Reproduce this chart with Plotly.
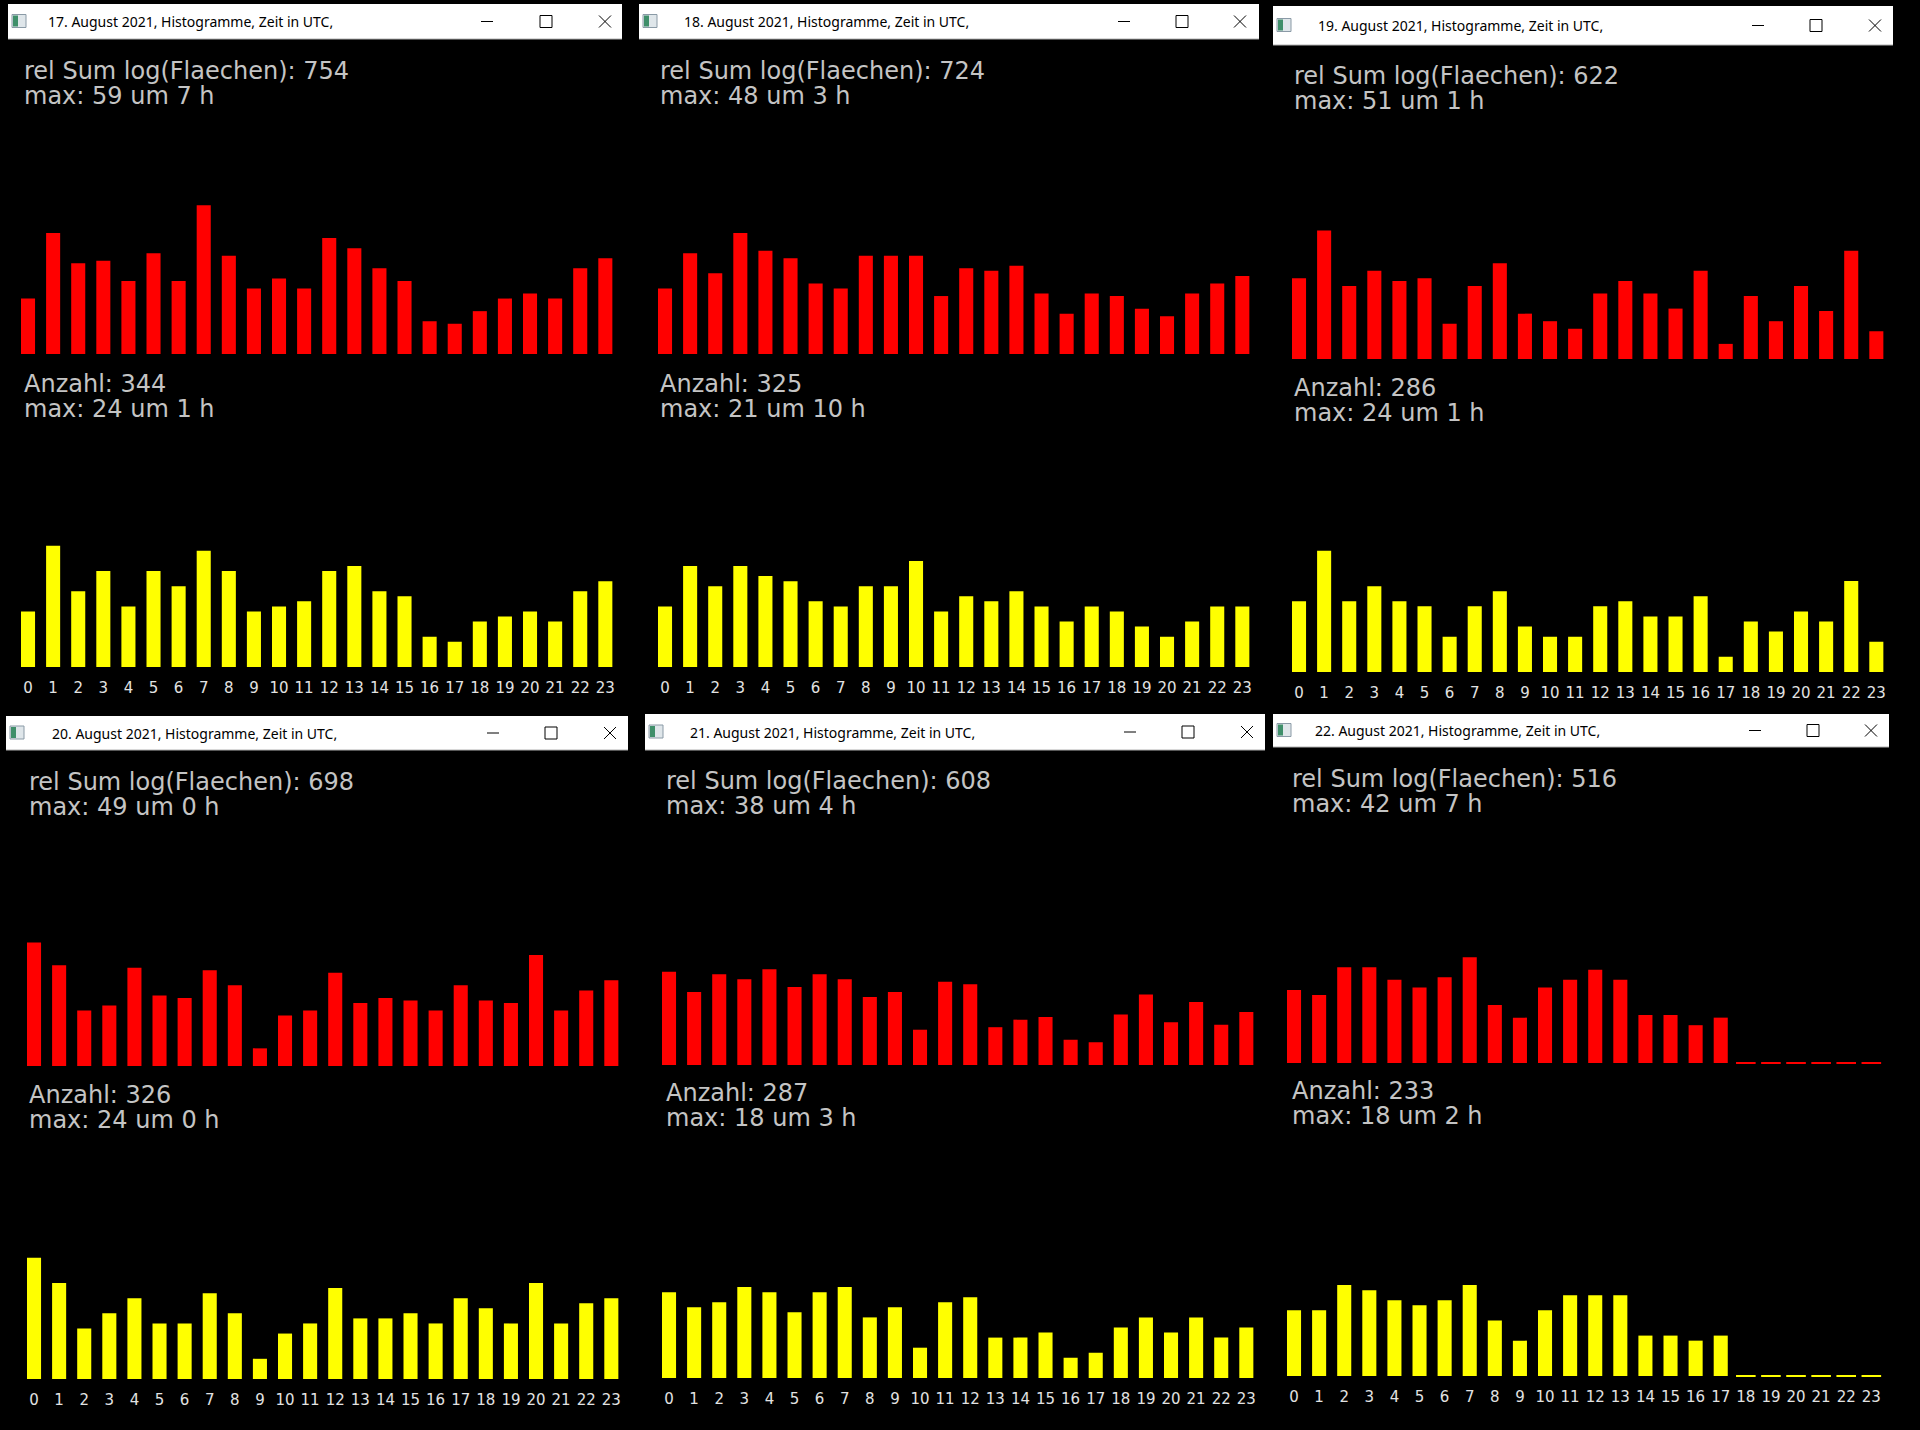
import plotly.graph_objects as go

W, H = 1920, 1430

# hours of the day (UTC)
hours = list(range(24))
hour_labels = [str(h) for h in hours]

dates = ["17. August 2021", "18. August 2021", "19. August 2021",
         "20. August 2021", "21. August 2021", "22. August 2021"]

# rel Sum log(Flaechen) per hour (red)
flaechen_17 = [22, 48, 36, 37, 29, 40, 29, 59, 39, 26, 30, 26, 46, 42, 34, 29, 13, 12, 17, 22, 24, 22, 34, 38]
flaechen_18 = [26, 40, 32, 48, 41, 38, 28, 26, 39, 39, 39, 23, 34, 33, 35, 24, 16, 24, 23, 18, 15, 24, 28, 31]
flaechen_19 = [32, 51, 29, 35, 31, 32, 14, 29, 38, 18, 15, 12, 26, 31, 26, 20, 35, 6, 25, 15, 29, 19, 43, 11]
flaechen_20 = [49, 40, 22, 24, 39, 28, 27, 38, 32, 7, 20, 22, 37, 25, 27, 26, 22, 32, 26, 25, 44, 22, 30, 34]
flaechen_21 = [37, 29, 36, 34, 38, 31, 36, 34, 27, 29, 14, 33, 32, 15, 18, 19, 10, 9, 20, 28, 17, 25, 16, 21]
flaechen_22 = [29, 27, 38, 38, 33, 30, 34, 42, 23, 18, 30, 33, 37, 33, 19, 19, 15, 18, 0, 0, 0, 0, 0, 0]

# Anzahl per hour (yellow)
anzahl_17 = [11, 24, 15, 19, 12, 19, 16, 23, 19, 11, 12, 13, 19, 20, 15, 14, 6, 5, 9, 10, 11, 9, 15, 17]
anzahl_18 = [12, 20, 16, 20, 18, 17, 13, 12, 16, 16, 21, 11, 14, 13, 15, 12, 9, 12, 11, 8, 6, 9, 12, 12]
anzahl_19 = [14, 24, 14, 17, 14, 13, 7, 13, 16, 9, 7, 7, 13, 14, 11, 11, 15, 3, 10, 8, 12, 10, 18, 6]
anzahl_20 = [24, 19, 10, 13, 16, 11, 11, 17, 13, 4, 9, 11, 18, 12, 12, 13, 11, 16, 14, 11, 19, 11, 15, 16]
anzahl_21 = [17, 14, 15, 18, 17, 13, 17, 18, 12, 14, 6, 15, 16, 8, 8, 9, 4, 5, 10, 12, 9, 12, 8, 10]
anzahl_22 = [13, 13, 18, 17, 15, 14, 15, 18, 11, 7, 13, 16, 16, 16, 8, 8, 7, 8, 0, 0, 0, 0, 0, 0]

flaechen = [flaechen_17, flaechen_18, flaechen_19, flaechen_20, flaechen_21, flaechen_22]
anzahl = [anzahl_17, anzahl_18, anzahl_19, anzahl_20, anzahl_21, anzahl_22]

# window placement in pixels
windows = [
    dict(left=21, red=354, yel=667, tx=22, t1=71, t2=384, bar=(8, 622, 4, 39), title_x=46, btn=(487, 546, 605)),
    dict(left=658, red=354, yel=667, tx=658, t1=71, t2=384, bar=(639, 1259, 4, 39), title_x=682, btn=(1124, 1182, 1240)),
    dict(left=1292, red=359, yel=672, tx=1292, t1=76, t2=388, bar=(1273, 1893, 6, 45), title_x=1316, btn=(1758, 1816, 1875)),
    dict(left=27, red=1066, yel=1379, tx=27, t1=782, t2=1095, bar=(6, 628, 716, 750), title_x=50, btn=(493, 551, 610)),
    dict(left=662, red=1065, yel=1378, tx=664, t1=781, t2=1093, bar=(645, 1265, 714, 750), title_x=688, btn=(1130, 1188, 1247)),
    dict(left=1287, red=1063, yel=1376, tx=1290, t1=779, t2=1091, bar=(1273, 1889, 714, 747), title_x=1313, btn=(1755, 1813, 1871)),
]

PITCH = 25.1
RED_PX = 2.52    # pixels per unit, red
YEL_PX = 5.05    # pixels per unit, yellow
RED_MAX = 60
YEL_MAX = 25
TEXT_COLOR = "#c4c4c4"
TEXT_FONT = "DejaVu Sans"


def px(x):
    return x / W


def py(y):
    return 1 - y / H


fig = go.Figure()
layout_axes = {}
shapes = []
annotations = []

for i, win in enumerate(windows):
    red_vals = flaechen[i]
    yel_vals = anzahl[i]
    x0 = win["left"] - PITCH * 0.22
    x1 = x0 + 24 * PITCH
    dom_x = [px(x0), px(x1)]

    for k, (vals, color, base, scale, vmax) in enumerate([
        (red_vals, "#ff0000", win["red"], RED_PX, RED_MAX),
        (yel_vals, "#ffff00", win["yel"], YEL_PX, YEL_MAX),
    ]):
        n = 2 * i + k + 1
        suffix = "" if n == 1 else str(n)
        fig.add_trace(go.Bar(
            x=hours, y=vals, width=0.56, marker=dict(color=color, line=dict(width=0)),
            xaxis="x" + suffix, yaxis="y" + suffix, showlegend=False,
        ))
        zeros = [h for h, v in zip(hours, vals) if v == 0]
        if zeros:
            fig.add_trace(go.Scatter(
                x=zeros, y=[0] * len(zeros), mode="markers", cliponaxis=False,
                marker=dict(symbol="line-ew", size=14, line=dict(width=2, color=color)),
                xaxis="x" + suffix, yaxis="y" + suffix, showlegend=False,
            ))
        layout_axes["xaxis" + suffix] = dict(
            domain=dom_x, range=[-0.5, 23.5], anchor="y" + suffix,
            showgrid=False, zeroline=False, showline=False, ticks="",
            tickmode="array", tickvals=hours, ticktext=hour_labels,
            showticklabels=(k == 1), ticklabelstandoff=10,
            tickfont=dict(family=TEXT_FONT, size=15, color="#e2e2e2"),
            fixedrange=True,
        )
        layout_axes["yaxis" + suffix] = dict(
            domain=[py(base), py(base - vmax * scale)], range=[0, vmax],
            anchor="x" + suffix, showgrid=False, zeroline=False,
            showline=False, showticklabels=False, ticks="", fixedrange=True,
        )

    # info texts
    red_max = max(red_vals)
    yel_max = max(yel_vals)
    lines = [
        (win["t1"], f"rel Sum log(Flaechen): {sum(red_vals)}"),
        (win["t1"] + 25, f"max: {red_max} um {red_vals.index(red_max)} h"),
        (win["t2"], f"Anzahl: {sum(yel_vals)}"),
        (win["t2"] + 25, f"max: {yel_max} um {yel_vals.index(yel_max)} h"),
    ]
    for ty, txt in lines:
        annotations.append(dict(
            x=px(win["tx"]), y=py(ty), xref="paper", yref="paper",
            xanchor="left", yanchor="middle", showarrow=False, text=txt,
            font=dict(family=TEXT_FONT, size=24, color=TEXT_COLOR),
        ))

    # window title bar
    bx0, bx1, by0, by1 = win["bar"]
    cy = (by0 + by1) / 2
    shapes.append(dict(type="rect", xref="paper", yref="paper",
                       x0=px(bx0), x1=px(bx1), y0=py(by1), y1=py(by0),
                       fillcolor="white", line=dict(width=0), layer="above"))
    shapes.append(dict(type="line", xref="paper", yref="paper",
                       x0=px(bx0), x1=px(bx1), y0=py(by1), y1=py(by1),
                       line=dict(color="#b0b0b0", width=1), layer="above"))
    # window icon
    shapes.append(dict(type="rect", xref="paper", yref="paper",
                       x0=px(bx0 + 4), x1=px(bx0 + 18), y0=py(cy + 6), y1=py(cy - 7),
                       fillcolor="#dfe6ea", line=dict(color="#8a9aa6", width=1), layer="above"))
    shapes.append(dict(type="rect", xref="paper", yref="paper",
                       x0=px(bx0 + 5), x1=px(bx0 + 10), y0=py(cy + 5), y1=py(cy - 6),
                       fillcolor="#3f8f6a", line=dict(width=0), layer="above"))
    annotations.append(dict(
        x=px(win["title_x"]), y=py(cy), xref="paper", yref="paper",
        xanchor="left", yanchor="middle", showarrow=False,
        text=f"{dates[i]}, Histogramme, Zeit in UTC,",
        font=dict(family="Noto Sans", size=14, color="#000000"),
    ))
    # minimise / maximise / close buttons
    b_min, b_max, b_close = win["btn"]
    shapes.append(dict(type="line", xref="paper", yref="paper",
                       x0=px(b_min - 6), x1=px(b_min + 6), y0=py(cy), y1=py(cy),
                       line=dict(color="#000000", width=1), layer="above"))
    shapes.append(dict(type="rect", xref="paper", yref="paper",
                       x0=px(b_max - 6), x1=px(b_max + 6), y0=py(cy + 6), y1=py(cy - 6),
                       line=dict(color="#000000", width=1), layer="above"))
    for sgn in (1, -1):
        shapes.append(dict(type="line", xref="paper", yref="paper",
                           x0=px(b_close - 6), x1=px(b_close + 6),
                           y0=py(cy - 6 * sgn), y1=py(cy + 6 * sgn),
                           line=dict(color="#000000", width=1), layer="above"))

fig.update_layout(
    width=W, height=H,
    margin=dict(l=0, r=0, t=0, b=0),
    paper_bgcolor="#000000", plot_bgcolor="rgba(0,0,0,0)",
    showlegend=False, shapes=shapes, annotations=annotations,
    **layout_axes,
)

# no page margin and no modebar, so the figure fills the window cleanly
fig.write_html(
    "out.html",
    config={"displayModeBar": False},
    post_script="document.body.style.margin='0';document.body.style.background='#000';",
)
